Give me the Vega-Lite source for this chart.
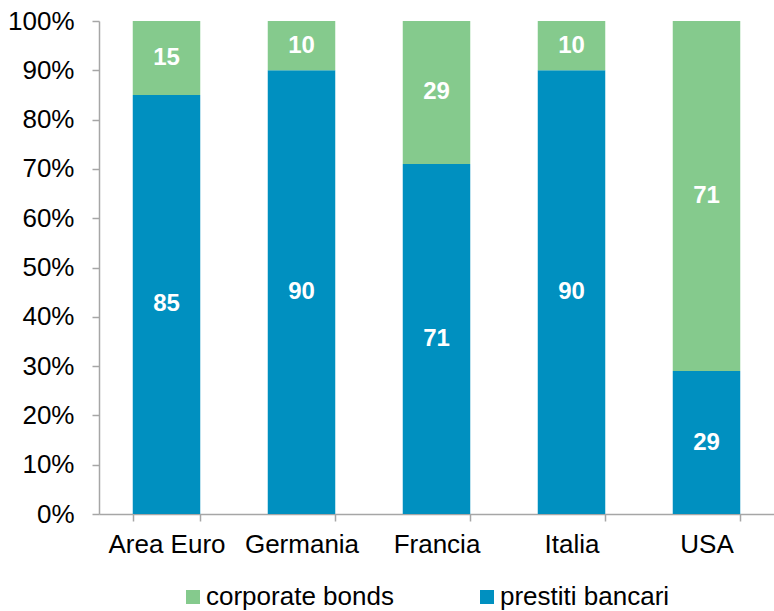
{
  "$schema": "https://vega.github.io/schema/vega-lite/v6.json",
  "width": 675,
  "height": 493,
  "autosize": {"type": "none"},
  "padding": {"left": 99, "top": 21, "right": 0, "bottom": 97},
  "background": "white",
  "config": {
    "view": {"stroke": null},
    "font": "Liberation Sans",
    "axis": {"labelFont": "Liberation Sans", "labelColor": "#000000", "domainColor": "#A6A6A6", "tickColor": "#A6A6A6", "grid": false, "title": null}
  },
  "data": {
    "values": [
      {"paese": "Area Euro", "serie": "prestiti bancari", "valore": 85},
      {"paese": "Area Euro", "serie": "corporate bonds", "valore": 15},
      {"paese": "Germania", "serie": "prestiti bancari", "valore": 90},
      {"paese": "Germania", "serie": "corporate bonds", "valore": 10},
      {"paese": "Francia", "serie": "prestiti bancari", "valore": 71},
      {"paese": "Francia", "serie": "corporate bonds", "valore": 29},
      {"paese": "Italia", "serie": "prestiti bancari", "valore": 90},
      {"paese": "Italia", "serie": "corporate bonds", "valore": 10},
      {"paese": "USA", "serie": "prestiti bancari", "valore": 29},
      {"paese": "USA", "serie": "corporate bonds", "valore": 71}
    ]
  },
  "transform": [
    {"stack": "valore", "groupby": ["paese"], "sort": [{"field": "serie", "order": "descending"}], "as": ["v0", "v1"]},
    {"calculate": "(datum.v0 + datum.v1) / 2", "as": "mid"}
  ],
  "encoding": {
    "x": {
      "field": "paese", "type": "nominal",
      "sort": ["Area Euro", "Germania", "Francia", "Italia", "USA"],
      "scale": {"paddingInner": 0.5, "paddingOuter": 0.25},
      "axis": {"labelAngle": 0, "labelFontSize": 26, "tickBand": "extent", "tickSize": 7, "labelPadding": 10, "domainWidth": 1.5, "tickWidth": 1.5}
    }
  },
  "layer": [
    {
      "mark": {"type": "bar"},
      "encoding": {
        "y": {
          "field": "v0", "type": "quantitative",
          "scale": {"domain": [0, 100], "nice": false},
          "axis": {"values": [0,10,20,30,40,50,60,70,80,90,100], "labelExpr": "datum.value + '%'", "labelFontSize": 26, "tickSize": 7, "labelPadding": 18, "domainWidth": 1.5, "tickWidth": 1.5}
        },
        "y2": {"field": "v1"},
        "color": {
          "field": "serie", "type": "nominal",
          "scale": {"domain": ["corporate bonds", "prestiti bancari"], "range": ["#85CA8D", "#0090C0"]},
          "legend": {
            "title": null,
            "orient": "none",
            "legendX": 81,
            "legendY": 563,
            "direction": "horizontal",
            "symbolType": "square",
            "symbolSize": 196,
            "symbolStrokeWidth": 0,
            "labelFontSize": 26,
            "labelFont": "Liberation Sans",
            "labelColor": "#000000",
            "labelOffset": 0,
            "columnPadding": 80,
            "labelLimit": 400
          }
        }
      }
    },
    {
      "mark": {"type": "text", "color": "white", "fontWeight": "bold", "fontSize": 24, "font": "Liberation Sans", "baseline": "middle"},
      "encoding": {
        "y": {"field": "mid", "type": "quantitative"},
        "text": {"field": "valore", "type": "quantitative"}
      }
    }
  ]
}
